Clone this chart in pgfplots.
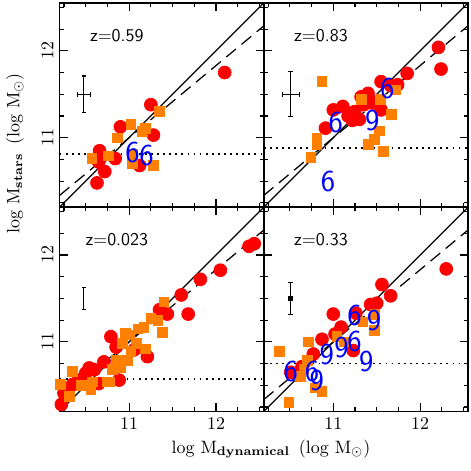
\documentclass[border=0pt]{standalone}
\usepackage{pgfplots}
\pgfplotsset{compat=1.18}
\usepgfplotslibrary{groupplots}
\usetikzlibrary{calc}
\definecolor{ptred}{RGB}{255,0,0}
\definecolor{ptorange}{RGB}{255,128,0}
\definecolor{ptblue}{RGB}{0,0,255}

\tikzset{zlab/.style={font=\sffamily\normalsize, anchor=center}}

\pgfplotsset{
  panel/.style={
    scale only axis, width=114pt, height=114pt,
    xmin=10.2, xmax=12.55, ymin=10.2, ymax=12.55,
    xtick={11,12}, ytick={11,12},
    minor xtick={10.25,10.5,10.75,11.25,11.5,11.75,12.25,12.5},
    minor ytick={10.25,10.5,10.75,11.25,11.5,11.75,12.25,12.5},
    tick align=inside, major tick length=4.4pt, minor tick length=2.2pt,
    axis line style={line width=0.8pt},
    every tick/.style={black, line width=0.6pt},
    tick label style={font=\normalsize},
    yticklabel style={rotate=90, anchor=south},
  },
  red pts/.style={only marks, mark=*, mark size=3.6pt, color=ptred},
  orange pts/.style={only marks, mark=square*, mark size=2.7pt, color=ptorange},
  glyph/.style={only marks, mark=text,
    text mark={\textcolor{ptblue}{\sffamily\fontsize{17}{17}\selectfont #1}}},
  oneone/.style={black, line width=0.7pt},
  fitline/.style={black, line width=0.7pt, dash pattern=on 7pt off 4pt},
  limline/.style={black, line width=1pt, dash pattern=on 1pt off 2.4pt},
  errbar/.style={black, line width=0.6pt,
    error bars/.cd, x dir=both, x explicit, y dir=both, y explicit,
    error bar style={line width=0.6pt},
    error mark options={rotate=90, black, mark size=1.3pt, line width=0.6pt}},
  errbary/.style={black, line width=0.6pt,
    error bars/.cd, y dir=both, y explicit,
    error bar style={line width=0.6pt},
    error mark options={rotate=90, black, mark size=1.3pt, line width=0.6pt}},
}

\begin{document}
\begin{tikzpicture}
\begin{groupplot}[
  group style={group size=2 by 2, horizontal sep=0pt, vertical sep=0pt,
    xticklabels at=edge bottom, yticklabels at=edge left},
  panel]

% z = 0.59
\nextgroupplot
\addplot[red pts] coordinates {
  (12.10,11.75) (11.25,11.38) (10.90,11.125) (11.28,11.03) (10.66,10.85)
  (10.65,10.72) (10.84,10.76) (10.72,10.61) (10.63,10.48) (11.12,10.68)
};
\addplot[orange pts] coordinates {
  (11.35,11.30) (11.02,11.15) (11.15,11.075) (11.19,11.11) (10.865,11.0)
  (10.57,10.76) (10.76,10.79) (11.04,10.81) (11.04,10.70) (11.28,10.68)
};
\addplot[glyph=6] coordinates {(11.04,10.83) (11.20,10.80)};
\addplot[oneone] coordinates {(10.2,10.2) (12.55,12.55)};
\addplot[fitline] coordinates {(10.2,10.336) (12.55,12.287)};
\addplot[limline] coordinates {(10.2,10.81) (12.55,10.81)};
\addplot[errbar] coordinates {(10.48,11.5) +- (0.077,0.21)};
\node[zlab] at (rel axis cs:0.28,0.84) {z=0.59};

% z = 0.83
\nextgroupplot
\addplot[red pts] coordinates {
  (12.21,12.04) (12.24,11.79) (11.85,11.74) (11.74,11.61) (11.55,11.645)
  (11.66,11.60) (11.40,11.51) (11.32,11.47) (11.11,11.36) (11.00,11.32)
  (11.245,11.30) (11.17,11.25) (11.30,11.21) (11.22,11.20) (10.91,11.11)
  (11.55,11.32) (11.45,11.40) (11.35,11.38)
};
\addplot[orange pts] coordinates {
  (10.87,11.645) (11.32,11.445) (11.54,11.445) (11.72,11.55) (11.67,11.27)
  (11.53,11.08) (11.47,10.98) (11.40,10.92) (11.58,10.84) (10.81,11.0)
  (10.81,10.92) (10.74,10.77)
};
\addplot[glyph=6] coordinates {(11.03,11.17) (11.62,11.57) (10.94,10.49)};
\addplot[glyph=9] coordinates {(11.45,11.20)};
\addplot[oneone] coordinates {(10.2,10.2) (12.55,12.55)};
\addplot[fitline] coordinates {(10.2,10.336) (12.55,12.287)};
\addplot[limline] coordinates {(10.2,10.88) (12.55,10.88)};
\addplot[errbar] coordinates {(10.51,11.5) +- (0.10,0.26)};
\node[zlab] at (rel axis cs:0.28,0.84) {z=0.83};

% z = 0.023
\nextgroupplot
\addplot[red pts] coordinates {
  (12.05,11.825) (11.82,11.72) (11.60,11.54) (11.68,11.32) (11.44,11.32)
  (11.35,11.37) (12.38,12.10) (12.44,12.13) (10.79,11.06) (10.85,10.94)
  (11.21,10.83) (10.885,10.56) (10.71,10.77) (10.54,10.70) (10.50,10.64)
  (10.35,10.51) (10.25,10.41) (10.22,10.28) (10.65,10.52) (11.06,10.91)
  (10.60,10.68) (10.42,10.56)
};
\addplot[orange pts] coordinates {
  (11.40,11.46) (11.38,11.11) (11.0,11.08) (11.10,11.15) (11.17,11.17)
  (11.25,11.27) (11.33,11.25) (10.92,10.98) (11.19,10.92) (10.98,10.79)
  (11.02,10.89) (10.90,10.70) (10.81,10.68) (10.75,10.54) (10.58,10.54)
  (10.35,10.66) (10.56,10.45) (10.21,10.51) (10.31,10.37) (10.77,10.54)
  (11.08,10.98) (10.85,10.79) (10.96,11.10) (10.45,10.50)
};
\addplot[oneone] coordinates {(10.2,10.2) (12.55,12.55)};
\addplot[fitline] coordinates {(10.2,10.336) (12.55,12.287)};
\addplot[limline] coordinates {(10.2,10.57) (12.55,10.57)};
\addplot[errbary] coordinates {(10.48,11.5) +- (0.0,0.13)};
\node[zlab] at (rel axis cs:0.28,0.84) {z=0.023};

% z = 0.33
\nextgroupplot
\addplot[red pts] coordinates {
  (12.30,11.84) (11.56,11.66) (11.66,11.53) (11.50,11.445) (11.43,11.43)
  (11.26,11.33) (11.0,11.32) (11.09,11.17) (11.02,11.09) (10.87,11.03)
  (10.77,10.86) (10.64,10.715) (10.51,10.65) (11.23,10.90)
};
\addplot[orange pts] coordinates {
  (11.48,11.315) (11.47,11.13) (11.34,11.23) (11.04,11.06) (11.13,11.0)
  (10.71,11.0) (10.38,10.89) (10.70,10.79) (10.62,10.60) (10.79,10.47)
  (10.87,10.43) (10.49,10.30) (10.66,10.68)
};
\addplot[glyph=6] coordinates {(10.51,10.66) (10.755,10.66) (11.245,11.0) (11.245,11.30)};
\addplot[glyph=9] coordinates {(10.81,10.56) (10.925,10.85) (11.095,10.94) (11.38,10.77) (11.47,11.25)};
\addplot[oneone] coordinates {(10.2,10.2) (12.55,12.55)};
\addplot[fitline] coordinates {(10.2,10.336) (12.55,12.287)};
\addplot[limline] coordinates {(10.2,10.75) (12.55,10.75)};
\addplot[mark=square*, mark size=1pt, errbar] coordinates {(10.51,11.5) +- (0.02,0.18)};
\node[zlab] at (rel axis cs:0.28,0.84) {z=0.33};
\end{groupplot}

\node[rotate=90] at ($(group c1r2.south west)+(-25pt,144pt)$)
  {log\,\,M$_{\mathbf{stars}}$\,\,\,(log\,\,M$_\odot$)};
\node at ($(group c1r2.south west)+(118pt,-21pt)$)
  {log\,\,M$_{\mathbf{dynamical}}$\,\,\,(log\,\,M$_\odot$)};

\pgfresetboundingbox
\useasboundingbox ($(group c1r2.south west)+(-33.3pt,-33pt)$) rectangle ($(group c2r1.north east)+(1.7pt,1.7pt)$);
\end{tikzpicture}
\end{document}
